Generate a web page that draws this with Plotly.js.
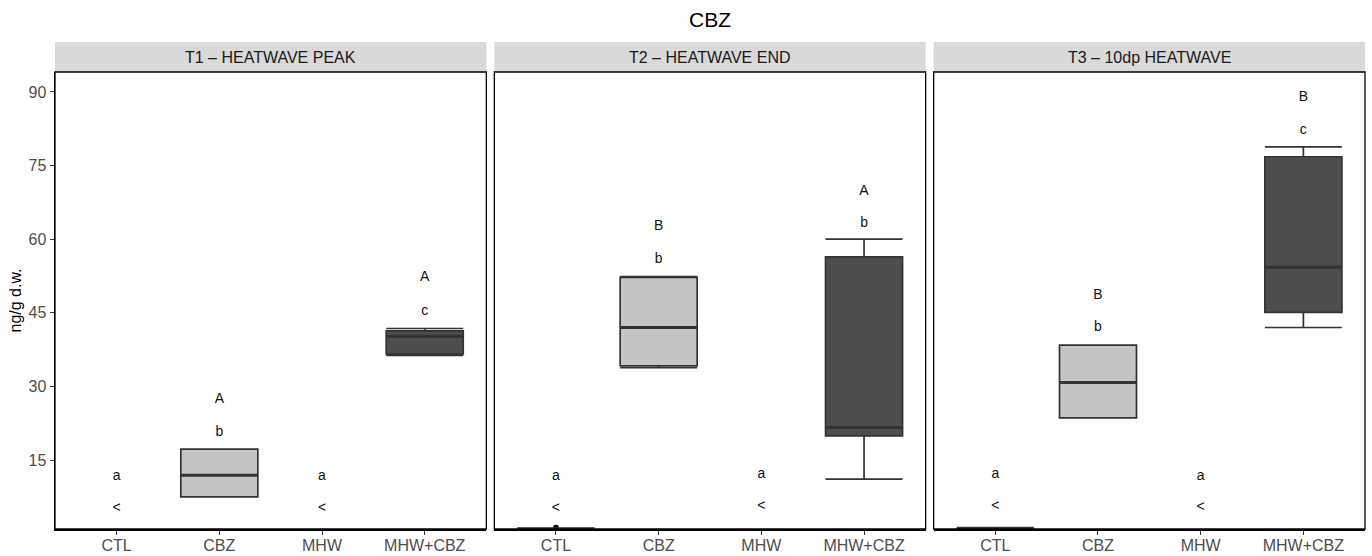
<!DOCTYPE html>
<html>
<head>
<meta charset="utf-8">
<script src="https://cdn.plot.ly/plotly-3.0.1.min.js"></script>
<style>html,body{margin:0;padding:0;background:#fff}#chart{width:1372px;height:556px}</style>
</head>
<body>
<div id="chart"></div>
<script>
// ---- data ----
const categories = ['CTL', 'CBZ', 'MHW', 'MHW+CBZ'];
const panelTitles = ['T1 \u2013 HEATWAVE PEAK', 'T2 \u2013 HEATWAVE END', 'T3 \u2013 10dp HEATWAVE'];
const boxFill = ['#c4c4c4', '#c4c4c4', '#c4c4c4', '#4d4d4d'];

// box statistics per timepoint (null = no box drawn)
const t1Lower  = [null, 7.5,  null, 36.3];
const t1Q1     = [null, 7.5,  null, 36.6];
const t1Median = [null, 11.9, null, 40.2];
const t1Q3     = [null, 17.2, null, 41.3];
const t1Upper  = [null, 17.2, null, 41.8];

const t2Lower  = [1.0, 33.8, null, 11.1];
const t2Q1     = [1.0, 34.2, null, 19.9];
const t2Median = [1.0, 42.0, null, 21.6];
const t2Q3     = [1.0, 52.2, null, 56.4];
const t2Upper  = [1.0, 52.4, null, 60.0];

const t3Lower  = [1.1, 23.6, null, 42.0];
const t3Q1     = [1.1, 23.6, null, 45.1];
const t3Median = [1.1, 30.8, null, 54.3];
const t3Q3     = [1.1, 38.4, null, 76.8];
const t3Upper  = [1.1, 38.4, null, 78.8];

// outliers
const t2Outlier = [1.2, null, null, null];

// letters
const t1Upper_txt = [null, 'A', null, 'A'];  const t1Upper_y = [null, 27.4, null, 52.2];
const t1Lower_txt = ['a', 'b', 'a', 'c'];    const t1Lower_y = [11.7, 20.7, 11.7, 45.2];
const t1Lt_y      = [5.1, null, 5.1, null];

const t2Upper_txt = [null, 'B', null, 'A'];  const t2Upper_y = [null, 62.5, null, 69.8];
const t2Lower_txt = ['a', 'b', 'a', 'b'];    const t2Lower_y = [11.7, 55.9, 12.1, 63.2];
const t2Lt_y      = [5.2, null, 5.6, null];

const t3Upper_txt = [null, 'B', null, 'B'];  const t3Upper_y = [null, 48.6, null, 88.9];
const t3Lower_txt = ['a', 'b', 'a', 'c'];    const t3Lower_y = [12.1, 42.0, 11.7, 82.2];
const t3Lt_y      = [5.6, null, 5.3, null];

const yTicks = [15, 30, 45, 60, 75, 90];

// ---- build ----
const panels = [
  {lower:t1Lower, q1:t1Q1, med:t1Median, q3:t1Q3, upper:t1Upper, out:[null,null,null,null],
   ut:t1Upper_txt, uy:t1Upper_y, lt:t1Lower_txt, ly:t1Lower_y, lty:t1Lt_y},
  {lower:t2Lower, q1:t2Q1, med:t2Median, q3:t2Q3, upper:t2Upper, out:t2Outlier,
   ut:t2Upper_txt, uy:t2Upper_y, lt:t2Lower_txt, ly:t2Lower_y, lty:t2Lt_y},
  {lower:t3Lower, q1:t3Q1, med:t3Median, q3:t3Q3, upper:t3Upper, out:[null,null,null,null],
   ut:t3Upper_txt, uy:t3Upper_y, lt:t3Lower_txt, ly:t3Lower_y, lty:t3Lt_y}
];

const FONT = 'Liberation Sans, Arial, Helvetica, sans-serif';
const traces = [];
const shapes = [];
const annotations = [];
const boxWidth = 0.75;

panels.forEach((p, i) => {
  const xa = i === 0 ? 'x' : 'x' + (i + 1);
  categories.forEach((c, j) => {
    if (p.q1[j] !== null) {
      traces.push({
        type: 'box', xaxis: xa, yaxis: 'y',
        x: [c], q1: [p.q1[j]], median: [p.med[j]], q3: [p.q3[j]],
        lowerfence: [p.lower[j]], upperfence: [p.upper[j]],
        width: boxWidth, whiskerwidth: 1,
        fillcolor: boxFill[j], line: {color: '#333333', width: 1.7},
        boxpoints: false, hoverinfo: 'skip'
      });
      shapes.push({
        type: 'line', xref: xa, yref: 'y',
        x0: j - boxWidth / 2, x1: j + boxWidth / 2, y0: p.med[j], y1: p.med[j],
        line: {color: '#333333', width: 3}
      });
    }
  });
  // outliers
  const ox = [], oy = [];
  categories.forEach((c, j) => { if (p.out[j] !== null) { ox.push(c); oy.push(p.out[j]); } });
  if (ox.length) traces.push({type:'scatter', mode:'markers', xaxis:xa, yaxis:'y', x:ox, y:oy,
    marker:{color:'#000', size:6}, cliponaxis:false, hoverinfo:'skip'});
  // letters
  const addText = (txt, ys) => {
    const tx = [], ty = [], tt = [];
    categories.forEach((c, j) => { if (ys[j] !== null && txt[j] !== null) { tx.push(c); ty.push(ys[j]); tt.push(txt[j]); } });
    traces.push({type:'scatter', mode:'text', xaxis:xa, yaxis:'y', x:tx, y:ty, text:tt,
      textposition:'middle center', textfont:{family:FONT, size:14, color:'#111'}, cliponaxis:false, hoverinfo:'skip'});
  };
  addText(p.ut, p.uy);
  addText(p.lt, p.ly);
  addText(categories.map(() => '<'), p.lty);

  // strip background
  shapes.push({type:'rect', xref: xa + ' domain', yref:'paper', x0:0, x1:1, y0:1, y1:1 + 30/457,
    fillcolor:'#d9d9d9', line:{width:0}, layer:'below'});
  // panel border
  shapes.push({type:'rect', xref: xa + ' domain', yref:'y domain', x0:0, x1:1, y0:0, y1:1,
    line:{color:'#000', width:1.3}, fillcolor:'rgba(0,0,0,0)'});
  annotations.push({xref: xa + ' domain', yref:'paper', x:0.5, y:1 + 15/457, text: panelTitles[i],
    showarrow:false, xanchor:'center', yanchor:'middle', font:{family:FONT, size:16, color:'#1a1a1a'}});
});

const gap = 8 / 1310;
const w = (1 - 2 * gap) / 3;
const domains = [[0, w], [w + gap, 2 * w + gap], [2 * w + 2 * gap, 1]];

const xaxisBase = (d) => ({
  domain: d, anchor: 'y', type: 'category', categoryorder: 'array', categoryarray: categories,
  range: [-0.6, 3.6], showgrid: false, zeroline: false, showline: true, linecolor: '#000', linewidth: 1.5,
  ticks: 'outside', ticklen: 4, tickwidth: 1, tickcolor: '#333', ticklabelstandoff: -3,
  tickfont: {family: FONT, size: 16, color: '#4d4d4d'}, fixedrange: true, automargin: false
});

const layout = {
  width: 1372, height: 556,
  margin: {l: 55, r: 7, t: 72, b: 27},
  paper_bgcolor: '#fff', plot_bgcolor: '#fff',
  showlegend: false,
  font: {family: FONT},
  title: {text: 'CBZ', font: {family: FONT, size: 21, color: '#000'}, x: 0.5, xref: 'paper', xanchor: 'center',
    y: 1 - 20/556, yref: 'container', yanchor: 'middle'},
  xaxis: xaxisBase(domains[0]),
  xaxis2: xaxisBase(domains[1]),
  xaxis3: xaxisBase(domains[2]),
  yaxis: {
    range: [0.94, 94.07], tickvals: yTicks, ticktext: yTicks.map(String),
    showgrid: false, zeroline: false, showline: true, linecolor: '#000', linewidth: 1.5,
    ticks: 'outside', ticklen: 4, tickwidth: 1, tickcolor: '#333',
    tickfont: {family: FONT, size: 16, color: '#4d4d4d'},
    title: {text: 'ng/g d.w.', font: {family: FONT, size: 16, color: '#000'}, standoff: 3},
    fixedrange: true, automargin: false
  },
  shapes: shapes,
  annotations: annotations,
  boxmode: 'overlay'
};

Plotly.newPlot('chart', traces, layout, {displayModeBar: false, staticPlot: true});
</script>
</body>
</html>
